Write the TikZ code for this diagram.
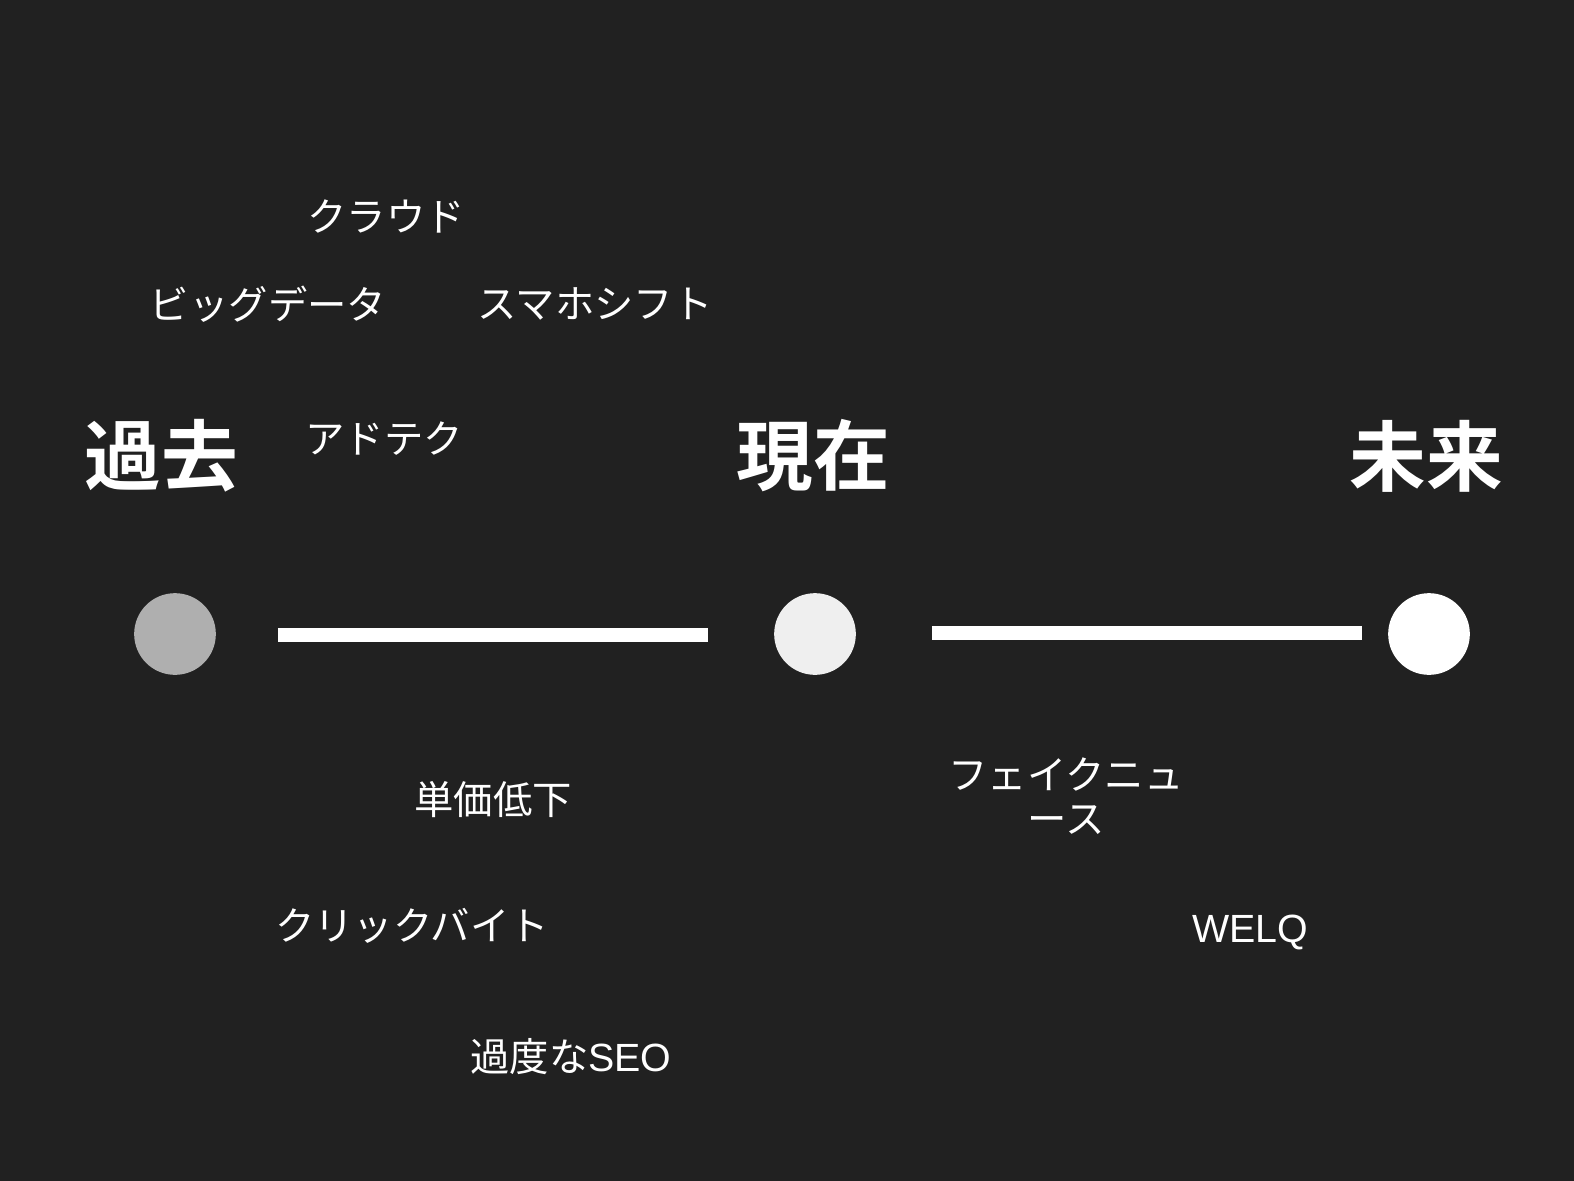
\documentclass[tikz,border=0pt]{standalone}
\usepackage{fontspec}
\newfontfamily\cjk{Noto Sans CJK JP}
\newfontfamily\cjkbold{Noto Sans CJK JP Bold}
\newfontfamily\latin{Liberation Sans}
\definecolor{bg}{HTML}{212121}
\definecolor{dotA}{HTML}{AFAFAF}
\definecolor{dotB}{HTML}{EFEFEF}
\begin{document}
\begin{tikzpicture}[x=1.0038pt,y=-1.0038pt,
  word/.style={text=white,inner sep=0pt,font=\fontsize{39.5}{44}\selectfont\cjk,align=center},
  era/.style={text=white,inner sep=0pt,font=\fontsize{77}{84}\selectfont\cjkbold},
  dot/.style={circle,minimum size=82pt,inner sep=0pt,draw=none},
  bar/.style={draw=white,line width=14pt}]
\fill[bg] (0,0) rectangle (1574,1181);
\useasboundingbox (0,0) rectangle (1574,1181);
% eras
\node[era] (past) at (161,456) {過去};
\node[era] (now) at (813,456) {現在};
\node[era] (future) at (1426,456) {未来};
% dots
\node[dot,fill=dotA] (c1) at (175,634) {};
\node[dot,fill=dotB] (c2) at (815,634) {};
\node[dot,fill=white] (c3) at (1429,634) {};
% bars
\draw[bar] ([shift={(62pt,-1pt)}]c1.east) -- ([shift={(-66pt,-1pt)}]c2.west);
\draw[bar] ([shift={(76pt,1pt)}]c2.east) -- ([shift={(-26pt,1pt)}]c3.west);
% upper words
\node[word] (cloud) at (386,216) {クラウド};
\node[word] (bigdata) at (268,304) {ビッグデータ};
\node[word] (smart) at (595,304) {スマホシフト};
\node[word] (adtech) at (384,439) {アドテク};
% lower words
\node[word] (price) at (493,800) {単価低下};
\node[word] (click) at (412,926) {クリックバイト};
\node[word] (seo) at (571,1057) {過度な{\latin SEO}};
\node[word] (fake) at (1066,796) {フェイクニュ\\ース};
\node[word,font=\fontsize{39.5}{44}\selectfont\latin] (welq) at (1250,932) {WELQ};
\end{tikzpicture}
\end{document}
